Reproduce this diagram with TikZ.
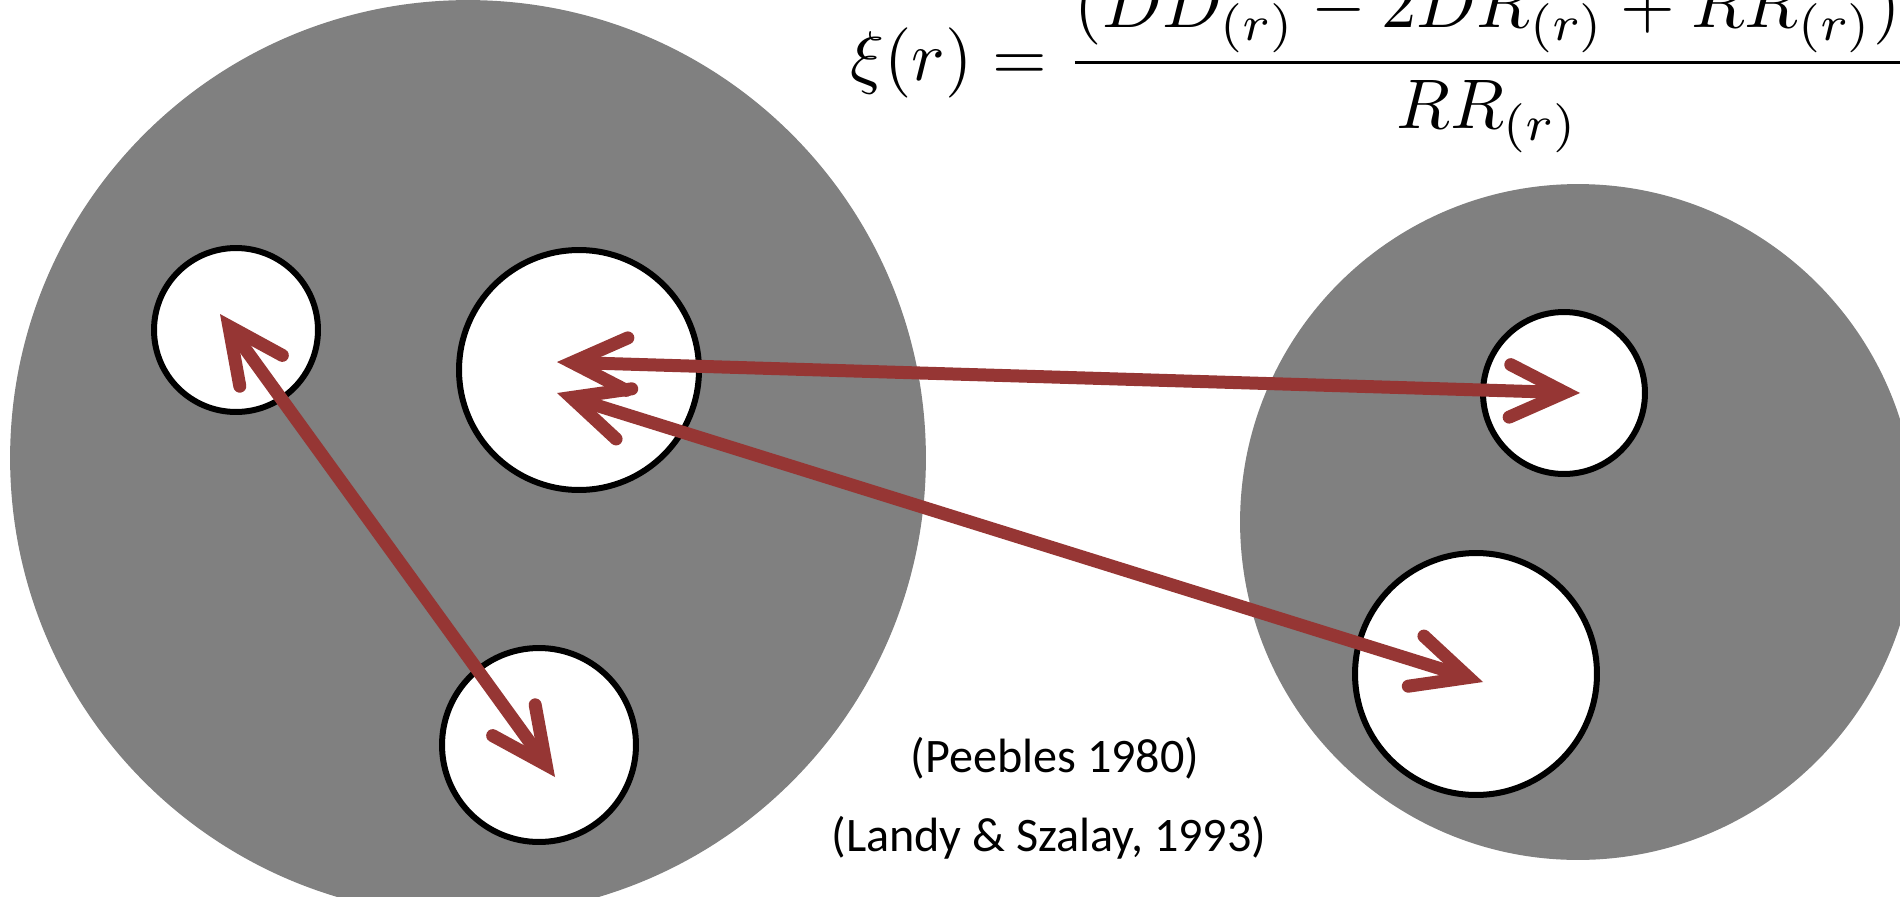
\documentclass[tikz,border=0pt]{standalone}
\usepackage{amsmath}
\usepackage[no-math]{fontspec}
\newfontfamily\calibri{Carlito}
\usetikzlibrary{arrows.meta,calc}
\definecolor{halogray}{RGB}{128,128,128}
\definecolor{linkred}{RGB}{150,54,52}
\tikzset{
  halo/.style={circle, fill=halogray, inner sep=0pt, minimum size=#1},
  cell/.style={circle, draw=black, line width=0.12cm, fill=white, inner sep=0pt, minimum size=#1},
  pairlink/.style={<->, >={Straight Barb[length=1.1cm, width=1.05cm, line cap=round, line join=miter]},
    draw=linkred, line width=0.26cm},
  refnote/.style={font=\calibri\fontsize{27.4}{33}\selectfont, inner sep=0pt}
}

\begin{document}
\begin{tikzpicture}[x=0.02cm, y=-0.02cm]
\useasboundingbox (0,0) rectangle (1900,896);
\clip (0,0) rectangle (1900,896);

% two halos
\node[halo=18.32cm] (lefthalo) at (468,458) {};
\node[halo=13.52cm] (righthalo) at (1578,522) {};

% cells inside the halos
\node[cell=3.28cm] (cellA) at (236,330) {};
\node[cell=4.8cm] (cellB) at (579,370) {};
\node[cell=3.88cm] (cellC) at (539,745) {};
\node[cell=3.24cm] (cellD) at (1564,393) {};
\node[cell=4.84cm] (cellE) at (1476,674) {};

% pair ends
\coordinate (endA) at ($(cellA)+(-16,-16)$);
\coordinate (endC) at ($(cellC)+(16,32)$);
\coordinate (endBup) at ($(cellB)+(-22,-8)$);
\coordinate (endBlow) at ($(cellB)+(-22,23)$);
\coordinate (endD) at ($(cellD)+(16,0)$);
\coordinate (endE) at ($(cellE)+(7,8)$);

\draw[pairlink] (endA) -- (endC);
\draw[pairlink] (endBup) -- (endD);
\draw[pairlink] (endBlow) -- (endE);

% estimator
\node[anchor=base west, scale=4.0, inner sep=0pt] (xi) at (849,80)
  {$\displaystyle \xi(r) = \frac{(DD_{(r)} - 2DR_{(r)} + RR_{(r)})}{RR_{(r)}}$};

\node[refnote] (peebles) at (1055,758) {(Peebles 1980)};
\node[refnote] (landy) at (1049,838) {(Landy \& Szalay, 1993)};
\end{tikzpicture}
\end{document}
